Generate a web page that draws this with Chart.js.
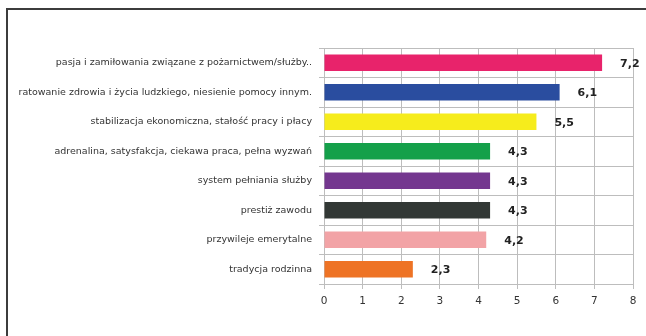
<!DOCTYPE html>
<html>
<head>
<meta charset="utf-8">
<script src="https://cdn.jsdelivr.net/npm/chart.js@4"></script>
<style>
  html, body { margin: 0; padding: 0; background: #fff; }
  #wrap { position: relative; width: 646px; height: 336px; overflow: hidden; }
  #frame { position: absolute; left: 6px; top: 8px; width: 700px; height: 400px;
           border-left: 2px solid #3c3c3c; border-top: 2px solid #3c3c3c; }
  canvas { position: absolute; left: 0; top: 0; }
</style>
</head>
<body>
<div id="wrap">
  <div id="frame"></div>
  <canvas id="bars" width="646" height="336"></canvas>
</div>
<script>
var labels = [
  'pasja i zamiłowania związane z pożarnictwem/służby..',
  'ratowanie zdrowia i życia ludzkiego, niesienie pomocy innym.',
  'stabilizacja ekonomiczna, stałość pracy i płacy',
  'adrenalina, satysfakcja, ciekawa praca, pełna wyzwań',
  'system pełniania służby',
  'prestiż zawodu',
  'przywileje emerytalne',
  'tradycja rodzinna'
];
var values = [7.2, 6.1, 5.5, 4.3, 4.3, 4.3, 4.2, 2.3];
var colors = ['#e8236b', '#2a4d9f', '#f6ec1c', '#14a04a', '#74378f', '#323835', '#f2a3a6', '#ee7325'];
var xTicks = [0, 1, 2, 3, 4, 5, 6, 7, 8];

// wartosci obok slupkow, z przecinkiem
var valueLabels = {
  id: 'valueLabels',
  afterDatasetsDraw: function(chart) {
    var ctx = chart.ctx;
    var meta = chart.getDatasetMeta(0);
    ctx.save();
    ctx.font = 'bold 11px "DejaVu Sans", sans-serif';
    ctx.fillStyle = '#222';
    ctx.textBaseline = 'middle';
    ctx.textAlign = 'left';
    meta.data.forEach(function(bar, i) {
      var txt = values[i].toString().replace('.', ',');
      ctx.fillText(txt, bar.x + 18, bar.y + 1);
    });
    ctx.restore();
  }
};

var ctx = document.getElementById('bars').getContext('2d');
var myChart = new Chart(ctx, {
  type: 'bar',
  data: {
    labels: labels,
    datasets: [{
      data: values,
      backgroundColor: colors,
      borderWidth: 0,
      barPercentage: 0.56,
      categoryPercentage: 1
    }]
  },
  options: {
    indexAxis: 'y',
    responsive: false,
    animation: false,
    layout: { padding: { left: 0, right: 13, top: 48, bottom: 22 } },
    plugins: {
      legend: { display: false },
      tooltip: { enabled: false }
    },
    scales: {
      x: {
        min: 0,
        max: 8,
        afterBuildTicks: function(axis) {
          axis.ticks = xTicks.map(function(v) { return { value: v }; });
        },
        afterFit: function(axis) { axis.height = 30; },
        grid: { color: '#bdbdbd', lineWidth: 1, tickLength: 5 },
        border: { color: '#bdbdbd' },
        ticks: {
          padding: 6,
          color: '#333',
          font: { family: '"DejaVu Sans", sans-serif', size: 10.5 }
        }
      },
      y: {
        afterFit: function(axis) { axis.width = 324; },
        grid: { color: '#bdbdbd', lineWidth: 1, tickLength: 5 },
        border: { color: '#bdbdbd' },
        ticks: {
          padding: 7,
          color: '#333',
          autoSkip: false,
          font: { family: '"DejaVu Sans", sans-serif', size: 9.5 }
        }
      }
    }
  },
  plugins: [valueLabels]
});
</script>
</body>
</html>
